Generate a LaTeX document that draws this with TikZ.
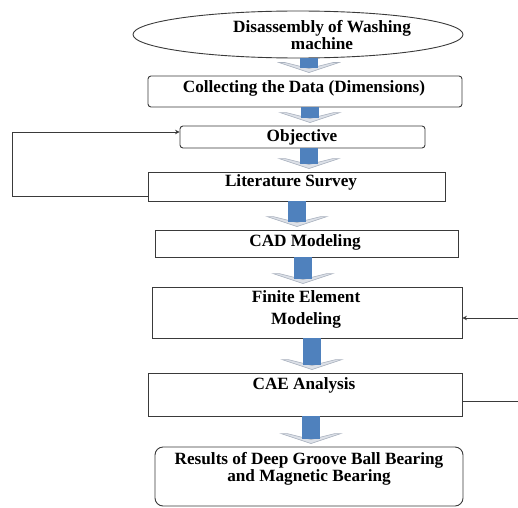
\documentclass[tikz,border=0pt]{standalone}
\usepackage{fontspec}
\setmainfont{Liberation Serif}
\usetikzlibrary{shapes.geometric,calc,arrows.meta}
\definecolor{stemblue}{HTML}{4F81BD}
\definecolor{chevfill}{HTML}{DDE1E8}
\definecolor{chevline}{HTML}{A9B1BE}
\definecolor{boxline}{HTML}{3A3A3A}
\tikzset{
  box/.style={draw=boxline, line width=0.9pt, inner sep=0pt, fill=white},
  lbl/.style={font=\bfseries\fontsize{17.2}{17}\selectfont, align=center, inner sep=0pt, text=black},
  fb/.style={draw=boxline, line width=1pt, -{Stealth[length=4.5pt,width=4.5pt]}},
  plainline/.style={draw=boxline, line width=1pt},
  chev/.style={fill=chevfill, draw=chevline, line width=0.6pt},
  stem/.style={fill=stemblue, draw=none}
}
\newcommand\flowarr[3]{%
  \path[chev] let \p1=(#1.south), \p2=(#2.north) in
    (#3pt-30pt,\y2+13pt) -- (#3pt,\y2+3pt) -- (#3pt+30pt,\y2+13pt) -- (#3pt+24pt,\y2+13pt) -- (#3pt,\y2+7pt) -- (#3pt-24pt,\y2+13pt) -- cycle;
  \path[stem] let \p1=(#1.south), \p2=(#2.north) in
    (#3pt-9pt,\y1) rectangle (#3pt+9pt,\y2+8pt);
}
\begin{document}
\begin{tikzpicture}[x=1pt,y=1pt]
\useasboundingbox (0,0) rectangle (518,507);
% boxes
\node[box, ellipse, minimum width=330pt, minimum height=47pt] (ell) at (298,472.5) {};
\node[box, rounded corners=3pt, minimum width=314pt, minimum height=31pt] (coll) at (305,415.5) {};
\node[box, rounded corners=3pt, minimum width=245pt, minimum height=22pt] (obj) at (302.5,370) {};
\node[box, minimum width=297pt, minimum height=29pt] (lit) at (296.5,320.5) {};
\node[box, minimum width=303pt, minimum height=27pt] (cad) at (306.5,263.5) {};
\node[box, minimum width=310pt, minimum height=51pt] (fem) at (307,194.5) {};
\node[box, minimum width=314pt, minimum height=43pt] (cae) at (305,112.5) {};
\node[box, rounded corners=8pt, minimum width=308pt, minimum height=59pt] (res) at (309,30.5) {};
% texts
\node[lbl, font=\bfseries\fontsize{17.2}{14}\selectfont] (tell) at (322,472) {Disassembly of Washing\\machine};
\node[lbl] (tcoll) at (304,419) {Collecting the Data (Dimensions)};
\node[lbl] (tobj) at (302,370) {Objective};
\node[lbl] (tlit) at (291,325) {Literature Survey};
\node[lbl] (tcad) at (305,265) {CAD Modeling};
\node[lbl, font=\bfseries\fontsize{17.2}{22}\selectfont] (tfem) at (306,198) {Finite Element\\Modeling};
\node[lbl] (tcae) at (304,122) {CAE Analysis};
\node[lbl] (tres) at (309,38.5) {Results of Deep Groove Ball Bearing\\and Magnetic Bearing};
% block arrows
\flowarr{ell}{coll}{309}
\flowarr{coll}{obj}{310}
\flowarr{obj}{lit}{309}
\flowarr{lit}{cad}{297}
\flowarr{cad}{fem}{303}
\flowarr{fem}{cae}{312}
\flowarr{cae}{res}{311}
% feedback lines
\draw[fb] ([yshift=-9.5pt]lit.west) -- ++(-135pt,0) |- ([yshift=5pt]obj.west);
\coordinate (rin) at (518,189);
\coordinate (rout) at (518,106);
\draw[fb] (rin) -- (rin -| fem.east);
\draw[plainline] ([yshift=-6.5pt]cae.east) -- (rout);
\end{tikzpicture}
\end{document}
